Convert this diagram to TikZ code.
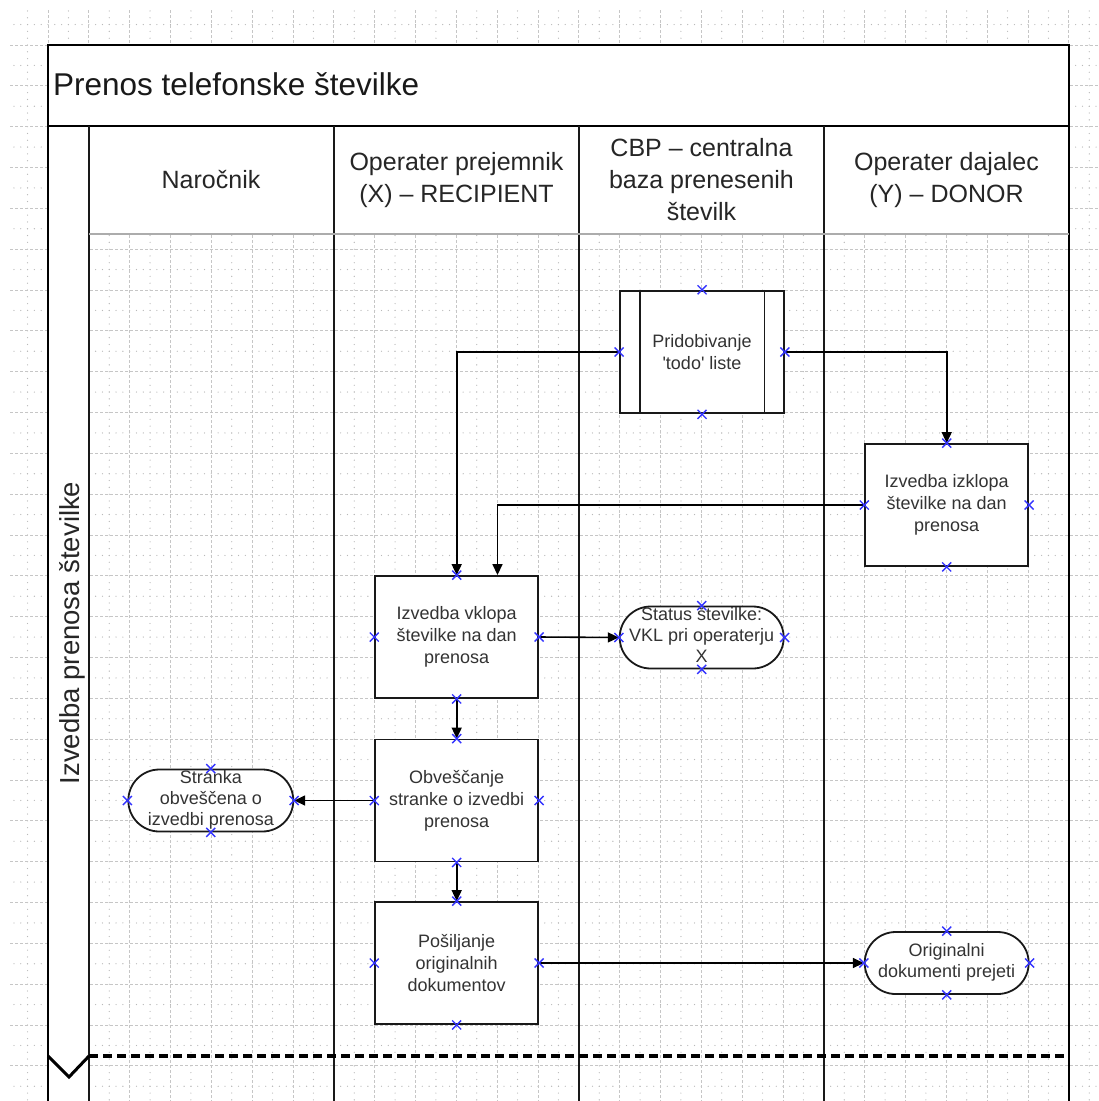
\documentclass[tikz,border=0pt]{standalone}
\usepackage{fontspec}
\setmainfont{Liberation Sans}
\usetikzlibrary{arrows.meta,shapes.misc,calc}
\definecolor{cpblue}{RGB}{51,51,255}
% multi-line text that does not widen or heighten its shape
\newcommand\flattext[1]{\makebox[0pt]{\smash{\raisebox{-4.5pt}{\begin{tabular}{@{}c@{}}#1\end{tabular}}}}}
\begin{document}
\begin{tikzpicture}[x=1pt,y=-1pt,
  gridmajor/.style={gray!45,line width=0.9pt,dash pattern=on 3pt off 2pt},
  gridminor/.style={gray!55,line width=1.3pt,line cap=round,dash pattern=on 0pt off 6.8056pt},
  lane/.style={line width=2pt,black!90},
  procbox/.style={draw=black!90,line width=1.9pt,fill=white,minimum width=163pt,minimum height=122pt,
    inner sep=0pt,align=center,text=black!80,font=\fontsize{18}{22}\selectfont},
  termbox/.style={rounded rectangle,draw=black!90,line width=1.8pt,fill=white,minimum width=164pt,
    minimum height=62pt,inner sep=0pt,text=black!80,font=\fontsize{18}{21}\selectfont},
  header/.style={align=center,text=black!85,inner sep=0pt,font=\fontsize{25}{32}\selectfont},
  flow/.style={line width=1.6pt,black,-{Triangle[length=11pt,width=10pt]}},
  cpmark/.style={cpblue,line width=1.4pt}]
\useasboundingbox (0,0) rectangle (1099,1101);

% background drawing grid
\begin{scope}
  \clip (8,8) rectangle (1099,1101);
  \foreach \k in {-1,...,25}
    \draw[gridminor] ({68.4167+40.8333*\k},-36.6667) -- ++(0,1180);
  \foreach \k in {-1,...,26}
    \draw[gridminor] (-33.6667,{65.4167+40.8333*\k}) -- ++(1180,0);
  \foreach \k in {-1,...,25}
    \draw[gridmajor] ({48+40.8333*\k},0) -- ++(0,1101);
  \foreach \k in {-1,...,26}
    \draw[gridmajor] (0,{45+40.8333*\k}) -- ++(1099,0);
\end{scope}

% pool frame, title bar and lane headers
\fill[white] (48,45) rectangle (1069,234);
\fill[white] (48,126) rectangle (89,1101);
\draw[line width=2.2pt] (48,1101) -- (48,45) -- (1069,45) -- (1069,1101);
\draw[line width=2.8pt] (48,126) -- (1069,126);
\foreach \lx in {89,334,579,824}
  \draw[lane] (\lx,126) -- (\lx,1101);
\draw[gray!65,line width=2.6pt] (89,234) -- (1069,234);
\draw[line width=3.5pt,dash pattern=on 9pt off 5pt] (89,1056) -- (1069,1056);
\draw[line width=3pt] (48,1056) -- (69,1077) -- (89,1056);

\node[anchor=base west,inner sep=0pt,text=black!90,font=\fontsize{31.5}{36}\selectfont] (title) at (53,95) {Prenos telefonske številke};
\node[rotate=90,inner sep=0pt,text=black!85,font=\fontsize{27.5}{33}\selectfont] (poollabel) at (72,633) {Izvedba prenosa številke};
\node[header,anchor=base] (lane1) at (211,188.5) {Naročnik};
\node[header] (lane2) at (456.5,180) {Operater prejemnik\\(X) -- RECIPIENT};
\node[header] (lane3) at (701.5,180) {CBP -- centralna\\baza prenesenih\\številk};
\node[header] (lane4) at (946.5,180) {Operater dajalec\\(Y) -- DONOR};

% process steps
\node[procbox,minimum width=164pt,minimum height=122.6pt] (todo) at (702,352) {Pridobivanje\\\textquotesingle todo\textquotesingle{} liste};
\draw[line width=1.9pt,black!90] ([xshift=20.5pt]todo.north west) -- ([xshift=20.5pt]todo.south west);
\draw[line width=1.9pt,black!90] ([xshift=-20.5pt]todo.north east) -- ([xshift=-20.5pt]todo.south east);
\node[procbox] (izklop) at (946.7,505) {Izvedba izklopa\\številke na dan\\prenosa};
\node[procbox] (vklop) at (456.7,637) {Izvedba vklopa\\številke na dan\\prenosa};
\node[procbox] (obv) at (456.7,800.5) {Obveščanje\\stranke o izvedbi\\prenosa};
\node[procbox] (posilj) at (456.7,963) {Pošiljanje\\originalnih\\dokumentov};

% end states
\node[termbox] (status) at (701.7,637.5) {\flattext{Status številke:\\VKL pri operaterju\\X}};
\node[termbox,minimum width=165pt] (stranka) at (210.8,800.5) {\flattext{Stranka\\obveščena o\\izvedbi prenosa}};
\node[termbox] (orig) at (946.7,963) {\flattext{Originalni\\dokumenti prejeti}};

% flow
\draw[flow] (todo.west) -| (vklop.north);
\draw[flow] (todo.east) -| (izklop.north);
\draw[flow] (izklop.west) -| ([xshift=40.8pt]vklop.north);
\draw[flow] (vklop.east) -- (status.west);
\draw[flow] (vklop.south) -- (obv.north);
\draw[flow] (obv.west) -- (stranka.east);
\draw[flow] (obv.south) -- (posilj.north);
\draw[flow] (posilj.east) -- (orig.west);

% connection points
\foreach \n in {todo,izklop,vklop,obv,posilj,status,stranka,orig}
  \foreach \a in {north,south,east,west}
    \draw[cpmark] (\n.\a) +(-4.5,-4.5) -- +(4.5,4.5) +(-4.5,4.5) -- +(4.5,-4.5);
\end{tikzpicture}
\end{document}
